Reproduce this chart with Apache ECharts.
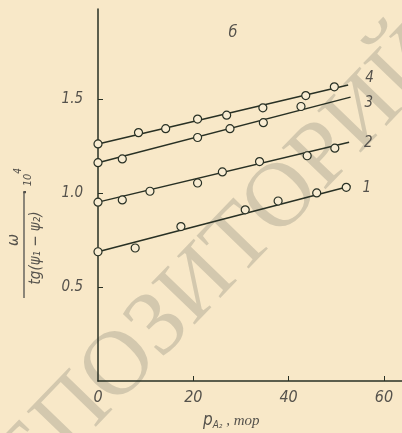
<!DOCTYPE html>
<html><head><meta charset="utf-8">
<script src="https://cdn.jsdelivr.net/npm/echarts@6/dist/echarts.min.js"></script>
<style>html,body{margin:0;padding:0;background:#f8e8c8}#c{width:402px;height:433px}</style>
</head><body><div id="c"></div>
<script>
// data
const xTickValues = [0, 20, 40, 60];
const yTickValues = [0.5, 1.0, 1.5];
const s1x = [0, 7.8, 17.4, 30.9, 37.8, 45.9, 52.1];
const s1y = [0.688, 0.708, 0.822, 0.911, 0.958, 1.001, 1.031];
const s2x = [0, 5.1, 10.9, 20.9, 26.1, 33.9, 43.9, 49.7];
const s2y = [0.952, 0.964, 1.010, 1.054, 1.113, 1.168, 1.199, 1.239];
const s3x = [0, 5.1, 20.9, 27.7, 34.7, 42.6];
const s3y = [1.162, 1.182, 1.296, 1.343, 1.375, 1.461];
const s4x = [0, 8.5, 14.2, 20.9, 27.0, 34.6, 43.6, 49.6];
const s4y = [1.262, 1.322, 1.343, 1.394, 1.415, 1.454, 1.519, 1.566];
// fitted straight lines: [x0, y0, x1, y1]
const fit1 = [0, 0.688, 53.0, 1.038];
const fit2 = [0, 0.952, 52.7, 1.271];
const fit3 = [0, 1.162, 53.0, 1.511];
const fit4 = [0, 1.262, 52.5, 1.576];
const curveNames = ['1', '2', '3', '4'];

const ink = '#283024';
const txt = '#55524c';
const fnt = "'DejaVu Sans Condensed','Liberation Sans',sans-serif";
const zip = (a, b) => a.map((v, i) => [v, b[i]]);

const pts = [zip(s1x, s1y), zip(s2x, s2y), zip(s3x, s3y), zip(s4x, s4y)];
const fits = [fit1, fit2, fit3, fit4];
const labelOffsets = [[4, 2], [7, 1], [6, 6], [9, -7]];

const series = [];
fits.forEach((f, i) => {
  series.push({
    type: 'line', name: curveNames[i], data: [[f[0], f[1]], [f[2], f[3]]],
    showSymbol: false, symbol: 'none', z: 3,
    lineStyle: { color: ink, width: 1.5 },
    endLabel: { show: true, formatter: curveNames[i], offset: labelOffsets[i],
      color: txt, fontSize: 15, fontStyle: 'italic', fontFamily: fnt }
  });
});
pts.forEach((p, i) => {
  series.push({
    type: 'scatter', data: p, symbol: 'circle', symbolSize: 8, z: 4,
    itemStyle: { color: '#f8ecd2', borderColor: ink, borderWidth: 1.2, opacity: 1 }
  });
});

const chart = echarts.init(document.getElementById('c'));
chart.setOption({
  animation: false,
  backgroundColor: '#f8e8c8',
  grid: { left: 98, right: 0, top: 9, bottom: 52 },
  xAxis: {
    type: 'value', min: 0, max: 63.8,
    axisLine: { show: true, onZero: false, lineStyle: { color: ink, width: 1.5 } },
    axisTick: { show: true, inside: true, length: 5, customValues: [20, 40, 60], lineStyle: { color: ink } },
    axisLabel: { customValues: xTickValues, margin: 9, color: txt, fontSize: 16, fontStyle: 'italic', fontFamily: fnt, showMaxLabel: true },
    splitLine: { show: false }
  },
  yAxis: {
    type: 'value', min: 0, max: 1.98,
    axisLine: { show: true, onZero: false, lineStyle: { color: ink, width: 1.5 } },
    axisTick: { show: true, inside: true, length: 5, customValues: yTickValues, lineStyle: { color: ink } },
    axisLabel: { customValues: yTickValues, margin: 15, color: txt, fontSize: 15, fontStyle: 'italic', fontFamily: fnt,
      formatter: v => v.toFixed(1) },
    splitLine: { show: false }
  },
  graphic: [
    { type: 'text', x: 205, y: 279, rotation: 46 * Math.PI / 180, z: -10, silent: true,
      style: { text: 'РЕПОЗИТОРИЙ', font: "92px 'Liberation Serif', serif", fill: '#d3c8ae', align: 'center', verticalAlign: 'middle' } },
    { type: 'text', x: 233, y: 33, z: 10,
      style: { text: 'б', font: "italic 16px " + fnt, fill: txt, align: 'center', verticalAlign: 'middle' } },
    { type: 'text', x: 203, y: 421, z: 10,
      style: { text: '{p|p}{s|A₂}{t| , тор}', verticalAlign: 'middle', fill: txt,
        rich: { p: { font: "italic 17px " + fnt, fill: txt },
                s: { font: "italic 10px " + fnt, fill: txt, padding: [8, 0, 0, 0] },
                t: { font: "italic 15px 'Liberation Serif', serif", fill: txt } } } },
    { type: 'group', x: 24, y: 245, rotation: Math.PI / 2, z: 10, children: [
      { type: 'rect', shape: { x: -53, y: -0.6, width: 106, height: 1.2 }, style: { fill: '#444' } },
      { type: 'text', x: 5, y: -10, style: { text: 'ω', font: "italic 16px " + fnt, fill: txt, align: 'center', verticalAlign: 'middle' } },
      { type: 'text', x: -3, y: 12, style: { text: 'tg(ψ₁ − ψ₂)', font: "italic 15px " + fnt, fill: txt, align: 'center', verticalAlign: 'middle' } },
      { type: 'text', x: 53, y: 2, style: { text: '·', font: "bold 14px " + fnt, fill: txt, align: 'center', verticalAlign: 'middle' } },
      { type: 'text', x: 65, y: 4, style: { text: '10', font: "italic 11px " + fnt, fill: txt, align: 'center', verticalAlign: 'middle' } },
      { type: 'text', x: 74, y: -6, style: { text: '4', font: "italic 10px " + fnt, fill: txt, align: 'center', verticalAlign: 'middle' } }
    ] }
  ],
  series: series
});
</script></body></html>
